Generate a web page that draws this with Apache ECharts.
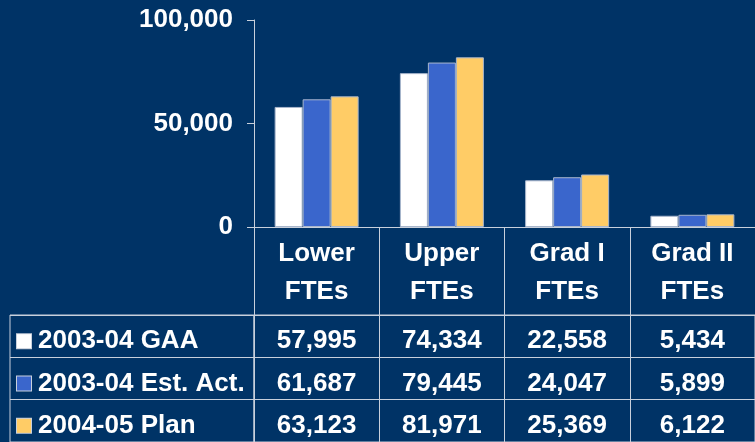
<!DOCTYPE html>
<html>
<head>
<meta charset="utf-8">
<script src="https://cdn.jsdelivr.net/npm/echarts@6/dist/echarts.min.js"></script>
<style>
    html, body {margin: 0; padding: 0; background: #003366;}
    #fte-chart {width: 755px; height: 442px;}
</style>
</head>
<body>
<div id="fte-chart"></div>
<script>
const categories = ['Lower\nFTEs', 'Upper\nFTEs', 'Grad I\nFTEs', 'Grad II\nFTEs'];
const seriesNames = ['2003-04 GAA', '2003-04 Est. Act.', '2004-05 Plan'];
const gaaValues = [57995, 74334, 22558, 5434];
const estActValues = [61687, 79445, 24047, 5899];
const planValues = [63123, 81971, 25369, 6122];
const seriesColors = ['#FFFFFF', '#3A66CC', '#FFCC66'];

const lineColor = '#c8d0dc';
const fontFamily = '"Liberation Sans", Arial, sans-serif';
const allValues = [gaaValues, estActValues, planValues];

// table cells: [column, row, value]
let cellData = [];
allValues.forEach((vals, row) => {
    vals.forEach((v, col) => {
        cellData.push([col, row, v]);
    });
});

const fmt = (v) => v.toLocaleString('en-US');

let markerRich = {};
seriesNames.forEach((name, i) => {
    markerRich['m' + i] = {
        width: 14,
        height: 14,
        backgroundColor: seriesColors[i],
        borderColor: lineColor,
        borderWidth: 1,
    };
});
markerRich.t = {
    color: '#fff',
    fontSize: 26,
    fontWeight: 'bold',
    fontFamily: fontFamily,
    padding: [0, 0, 0, 7],
};

let options = {
    backgroundColor: '#003366',
    animation: false,
    textStyle: {fontFamily: fontFamily},
    grid: [
        {left: 254, top: 20, right: -8, height: 207},
        {left: 10, top: 315, width: 244, height: 131, show: true, borderColor: lineColor, borderWidth: 1},
        {left: 254, top: 315, right: -8, height: 131, show: true, borderColor: lineColor, borderWidth: 1},
    ],
    xAxis: [
        {
            type: 'category',
            gridIndex: 0,
            data: categories,
            axisLine: {lineStyle: {color: lineColor, width: 1}},
            axisTick: {show: true, interval: 0, length: 219, lineStyle: {color: lineColor, width: 1}},
            axisLabel: {
                interval: 0,
                margin: 8,
                color: '#fff',
                fontSize: 26,
                fontWeight: 'bold',
                lineHeight: 38,
            },
        },
        {
            type: 'value',
            gridIndex: 1,
            show: false,
        },
        {
            type: 'category',
            gridIndex: 2,
            data: categories,
            show: false,
        },
    ],
    yAxis: [
        {
            type: 'value',
            gridIndex: 0,
            min: 0,
            max: 100000,
            interval: 50000,
            axisLine: {show: true, lineStyle: {color: lineColor, width: 1}},
            axisTick: {show: true, length: 7, lineStyle: {color: lineColor}},
            splitLine: {show: false},
            axisLabel: {
                margin: 21,
                color: '#fff',
                fontSize: 26,
                fontWeight: 'bold',
                formatter: (v) => fmt(v),
            },
        },
        {
            type: 'category',
            gridIndex: 1,
            inverse: true,
            data: seriesNames,
            axisLine: {show: false},
            axisTick: {show: false},
            splitLine: {show: true, interval: 0, lineStyle: {color: lineColor, width: 1}},
            axisLabel: {
                inside: true,
                margin: 7,
                align: 'left',
                padding: [10, 0, 0, 0],
                formatter: (v, i) => '{m' + i + '|}{t|' + v + '}',
                rich: markerRich,
            },
        },
        {
            type: 'category',
            gridIndex: 2,
            inverse: true,
            data: seriesNames,
            axisLine: {show: false},
            axisTick: {show: false},
            axisLabel: {show: false},
            splitLine: {show: true, interval: 0, lineStyle: {color: lineColor, width: 1}},
        },
    ],
    series: [
        ...seriesNames.map((name, i) => ({
            name: name,
            type: 'bar',
            xAxisIndex: 0,
            yAxisIndex: 0,
            data: allValues[i],
            barWidth: 28,
            barGap: '0%',
            itemStyle: {
                color: seriesColors[i],
                borderColor: '#a8b6cc',
                borderWidth: 1,
            },
        })),
        {
            type: 'scatter',
            xAxisIndex: 2,
            yAxisIndex: 2,
            data: cellData,
            symbol: 'rect',
            symbolSize: 1,
            itemStyle: {color: 'rgba(0,0,0,0)', opacity: 1},
            label: {
                show: true,
                position: 'inside',
                offset: [0, 5],
                color: '#fff',
                opacity: 1,
                fontSize: 26,
                fontWeight: 'bold',
                formatter: (p) => fmt(p.value[2]),
            },
        },
    ],
};

const chartBox = document.getElementById('fte-chart');
let fteChart = echarts.getInstanceByDom(chartBox);
if (!fteChart) {
    fteChart = echarts.init(chartBox);
}
fteChart.setOption(options);
</script>
</body>
</html>
